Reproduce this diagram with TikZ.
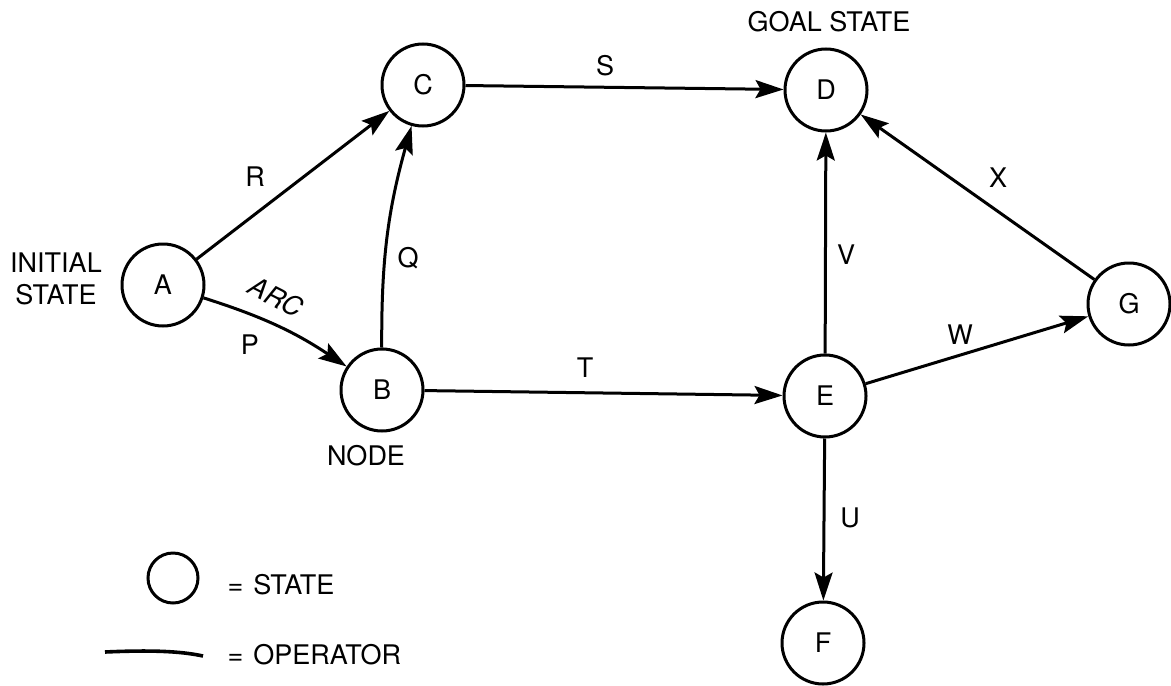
\documentclass[tikz,border=0pt]{standalone}
\usepackage{fontspec}
\setmainfont{TeX Gyre Heros}
\usepackage{tikz}
\usetikzlibrary{arrows.meta}
\usetikzlibrary{positioning}
\newcommand\linewd{1.5pt}
\newcommand\statesize{41pt}
\newcommand\keysize{25pt}
\tikzset{>={Stealth[length=14pt,width=9pt,inset=2.5pt]}}
\tikzstyle{graph}    = [line width=\linewd]
\tikzstyle{state}    = [graph, draw, circle, inner sep=0pt, minimum size=\statesize]
\tikzstyle{operator} = [graph, ->]
\tikzstyle{oplabel}  = [inner sep=0pt]
\newcommand\oper[3][]{\draw[operator] (#2) to[#1] (#3);}

\begin{document}
\begin{tikzpicture}[x=.5pt,y=-.5pt,graph,font=\fontsize{13.5}{16}\selectfont]
  \useasboundingbox (0,0) rectangle (1171,685);
  % states
  \node[state] (A) at (163,285) {A};
  \node[state] (B) at (382,390) {B};
  \node[state] (C) at (423,85) {C};
  \node[state] (D) at (826,90) {D};
  \node[state] (E) at (825,396) {E};
  \node[state] (F) at (823,643) {F};
  \node[state] (G) at (1129,304) {G};
  % captions
  \node[align=center,oplabel] (initial) at (56,279) {INITIAL\\STATE};
  \node[oplabel] (goal) at (829,22) {GOAL STATE};
  \node[oplabel] (nodetext) at (366,456) {NODE};
  % operators
  \oper{A}{C}
  \oper[bend left=8]{A}{B}
  \oper[bend left=8]{B}{C}
  \oper{C}{D}
  \oper{B}{E}
  \oper{E}{D}
  \oper{E}{G}
  \oper{G}{D}
  \oper{E}{F}
  % operator labels
  \node[oplabel] (R) at (255,177) {R};
  \node[oplabel] (Q) at (408,258) {Q};
  \node[oplabel,rotate=-27,font=\fontsize{13.5}{16}\selectfont\itshape] (arc) at (276,297) {ARC};
  \node[oplabel] (P) at (250,345) {P};
  \node[oplabel] (S) at (605,66) {S};
  \node[oplabel] (T) at (585,368) {T};
  \node[oplabel] (V) at (846,255) {V};
  \node[oplabel] (W) at (960,335) {W};
  \node[oplabel] (X) at (998,178) {X};
  \node[oplabel] (U) at (850,518) {U};
  % key
  \node[state,minimum size=\keysize] (keystate) at (173,578) {};
  \node[oplabel,anchor=west] (keystatetext) at (226,585) {=\hspace{5pt}STATE};
  \coordinate (keyopl) at (105,652);
  \coordinate (keyopr) at (203,656);
  \draw[line width=1.8pt] (keyopl) .. controls (150,650) and (180,651) .. (keyopr);
  \node[oplabel,anchor=west] (keyoptext) at (226,655) {=\hspace{5pt}OPERATOR};
\end{tikzpicture}
\end{document}
